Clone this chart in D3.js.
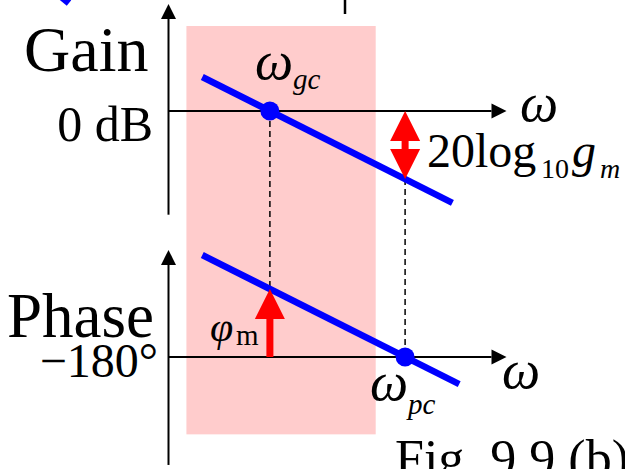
<!DOCTYPE html>
<html>
<head>
<meta charset="utf-8">
<script src="https://cdn.jsdelivr.net/npm/d3@7/dist/d3.min.js"></script>
<style>
  html, body { margin: 0; padding: 0; background: #fff; }
  svg { display: block; }
  text { font-family: "Liberation Serif", "Times New Roman", serif; fill: #000; }
</style>
</head>
<body>
<svg id="chart" width="625" height="469"></svg>
<script>
// Frequency axis (arbitrary units) and the two crossover frequencies
const omegaExtent = [0, 10];
const crossoverOmega = { gc: 3, pc: 7 };

// Gain plot (dB): straight-line asymptote and axis extent
const gainLine = [[1, 10], [8.4, -27]];
const gainAxisExtent = [-30.5, 31.5];
const gainMarginDb = -20;          // 20 log10 g_m (drawn below 0 dB)

// Phase plot (degrees)
const phaseLine = [[1, -120], [8.6, -196]];
const phaseAxisExtent = [-243.5, -117];
const phaseMarginDeg = 40;         // φ_m above −180°

// Shaded frequency band, spanning from the gain plot down into the phase plot
const bandOmega = [0.53, 6.13];
const bandGainTop = 25;
const bandPhaseBottom = -225.5;

const svg = d3.select("#chart");

const x = d3.scaleLinear().domain([0, 10]).range([168.5, 506.5]);
const yGain = d3.scaleLinear().domain([0, -20]).range([111, 179]);
const yPhase = d3.scaleLinear().domain([-180, -140]).range([357, 289]);

const BLUE = "#0000ff", RED = "#ff0000", PINK = "#ffcccc";

// edge of the neighbouring panel above
svg.append("line").attr("x1", 345).attr("x2", 345).attr("y1", 0).attr("y2", 14)
  .attr("stroke", "#000").attr("stroke-width", 2.5);
svg.append("line").attr("x1", 58).attr("y1", -6).attr("x2", 69).attr("y2", 3)
  .attr("stroke", BLUE).attr("stroke-width", 7);

// shaded band
svg.append("rect")
  .attr("x", x(bandOmega[0]))
  .attr("y", yGain(bandGainTop))
  .attr("width", x(bandOmega[1]) - x(bandOmega[0]))
  .attr("height", yPhase(bandPhaseBottom) - yGain(bandGainTop))
  .attr("fill", PINK);

// arrow-tipped axis helper
function arrowAxis(x1, y1, x2, y2) {
  const len = 15, half = 7.5;
  const dx = x2 - x1, dy = y2 - y1, L = Math.hypot(dx, dy);
  const ux = dx / L, uy = dy / L;
  const bx = x2 - ux * len, by = y2 - uy * len;
  svg.append("line").attr("x1", x1).attr("y1", y1).attr("x2", bx).attr("y2", by)
    .attr("stroke", "#000").attr("stroke-width", 2);
  svg.append("path")
    .attr("d", `M${x2},${y2}L${bx - uy * half},${by + ux * half}L${bx + uy * half},${by - ux * half}Z`)
    .attr("fill", "#000");
}

// gain axes
arrowAxis(x(omegaExtent[0]), yGain(gainAxisExtent[0]), x(omegaExtent[0]), yGain(gainAxisExtent[1]));
arrowAxis(x(omegaExtent[0]), yGain(0), x(omegaExtent[1]), yGain(0));
// phase axes
arrowAxis(x(omegaExtent[0]), yPhase(phaseAxisExtent[0]), x(omegaExtent[0]), yPhase(phaseAxisExtent[1]));
arrowAxis(x(omegaExtent[0]), yPhase(-180), x(omegaExtent[1]), yPhase(-180));

// dashed drop lines
const gainAt = w => gainLine[0][1] + (gainLine[1][1] - gainLine[0][1]) * (w - gainLine[0][0]) / (gainLine[1][0] - gainLine[0][0]);
const phaseAt = w => phaseLine[0][1] + (phaseLine[1][1] - phaseLine[0][1]) * (w - phaseLine[0][0]) / (phaseLine[1][0] - phaseLine[0][0]);

svg.append("line")
  .attr("x1", x(crossoverOmega.gc)).attr("x2", x(crossoverOmega.gc))
  .attr("y1", yGain(0)).attr("y2", yPhase(phaseAt(crossoverOmega.gc)))
  .attr("stroke", "#000").attr("stroke-width", 1.5).attr("stroke-dasharray", "6,4");
svg.append("line")
  .attr("x1", x(crossoverOmega.pc)).attr("x2", x(crossoverOmega.pc))
  .attr("y1", yGain(gainAt(crossoverOmega.pc))).attr("y2", yPhase(-180))
  .attr("stroke", "#000").attr("stroke-width", 1.5).attr("stroke-dasharray", "6,4");

// gain and phase asymptotes
const gLine = d3.line().x(d => x(d[0])).y(d => yGain(d[1]));
const pLine = d3.line().x(d => x(d[0])).y(d => yPhase(d[1]));
svg.append("path").attr("d", gLine(gainLine)).attr("stroke", BLUE).attr("stroke-width", 6.5).attr("fill", "none");
svg.append("path").attr("d", pLine(phaseLine)).attr("stroke", BLUE).attr("stroke-width", 6.5).attr("fill", "none");

// crossover points
svg.append("circle").attr("cx", x(crossoverOmega.gc)).attr("cy", yGain(0)).attr("r", 9.5).attr("fill", BLUE);
svg.append("circle").attr("cx", x(crossoverOmega.pc)).attr("cy", yPhase(-180)).attr("r", 9.5).attr("fill", BLUE);

// red margin arrows
function redArrow(cx, yTail, yTip, double) {
  const headL = 30, headW = 15, shaft = 3.5;
  const dir = yTip < yTail ? -1 : 1;
  const baseTip = yTip - dir * headL;
  const baseTail = double ? yTail + dir * headL : yTail;
  svg.append("rect").attr("x", cx - shaft).attr("width", shaft * 2)
    .attr("y", Math.min(baseTip, baseTail)).attr("height", Math.abs(baseTip - baseTail))
    .attr("fill", RED);
  svg.append("path").attr("d", `M${cx},${yTip}L${cx - headW},${baseTip}L${cx + headW},${baseTip}Z`).attr("fill", RED);
  if (double) {
    svg.append("path").attr("d", `M${cx},${yTail}L${cx - headW},${baseTail}L${cx + headW},${baseTail}Z`).attr("fill", RED);
  }
}
redArrow(x(crossoverOmega.pc), yGain(0), yGain(gainMarginDb), true);
redArrow(x(crossoverOmega.gc), yPhase(-180), yPhase(-180 + phaseMarginDeg), false);

// labels
function label(t, px, py, size, opts = {}) {
  const el = svg.append("text").attr("x", px).attr("y", py).attr("font-size", size).text(t);
  if (opts.italic) el.attr("font-style", "italic");
  if (opts.anchor) el.attr("text-anchor", opts.anchor);
  return el;
}
label("Gain", 24, 71, 64);
label("0 dB", 153, 141, 50, { anchor: "end" });
label("Phase", 7, 337, 63);
label("\u2212180\u00b0", 158, 377, 48, { anchor: "end" });

label("\u03c9", 520, 121, 54, { italic: true });
label("\u03c9", 502, 388, 54, { italic: true });

label("\u03c9", 255, 79, 54, { italic: true });
label("gc", 293, 89, 29, { italic: true });

label("\u03c9", 370, 400, 54, { italic: true });
label("pc", 408, 414, 29, { italic: true });

label("20log", 427, 167, 48);
label("10", 541, 178, 28);
label("g", 572, 167, 48, { italic: true });
label("m", 600, 178, 28, { italic: true });

label("\u03c6", 210, 341, 42, { italic: true });
label("m", 236, 345, 29);

label("Fig. 9.9 (b)", 395, 476, 52);
</script>
</body>
</html>
